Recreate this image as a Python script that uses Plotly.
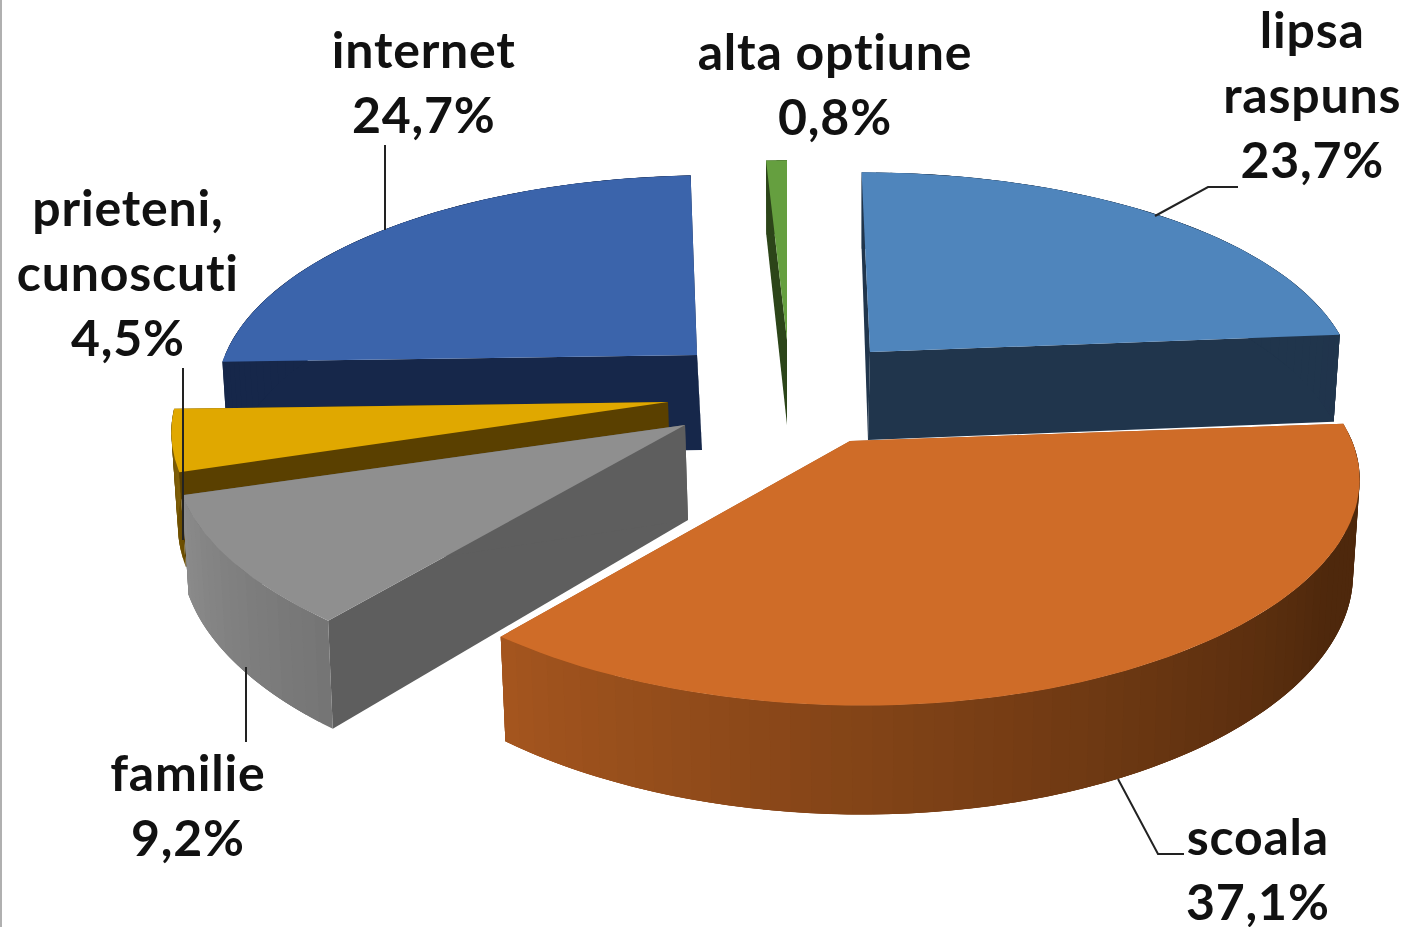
import numpy as np
import plotly.graph_objects as go

# ---- data ----
categories = ["lipsa<br>raspuns", "scoala", "familie", "prieteni,<br>cunoscuti", "internet", "alta optiune"]
values = [23.7, 37.1, 9.2, 4.5, 24.7, 0.8]
value_labels = ["23,7%", "37,1%", "9,2%", "4,5%", "24,7%", "0,8%"]

# ---- styles ----
top_colors = ["#4F85BC", "#CF6C28", "#8F8F8F", "#E0A800", "#3B64AB", "#659F3F"]
face_colors = ["#20354C", "#A5561F", "#5E5E5E", "#5A4000", "#16274A", "#2C4519"]
rim_from = ["#20354C", "#A5561F", "#8C8C8C", "#80600A", "#16274A", "#2C4519"]
rim_to = ["#20354C", "#4E280C", "#757575", "#6A4C00", "#16274A", "#2C4519"]
FONT = "Lato"
# exploded wedge placement: apex x, apex y, radius x, back-lean, depth, apex drift at the bottom
placement = [
    (870, 352, 478, -10, 88, -2),
    (850, 441, 502, -10, 92, 2),
    (685, 425, 505, -4, 95, 3),
    (668, 402, 492, -8, 90, 2),
    (697, 355, 472, 17, 95, 5),
    (787, 340, 480, 0, 85, 0),
]
label_pos = [(1312, 94), (1258, 868), (188, 804), (128, 272), (424, 81), (835, 83)]
H, K, BOTTOM_SHRINK = 214.0, 0.191, 0.987
draw_order = [0, 5, 4, 3, 2, 1]


def hexrgb(c):
    return np.array([int(c[i:i + 2], 16) for i in (1, 3, 5)], float)


def mix(a, b, f):
    m = hexrgb(a) * (1 - f) + hexrgb(b) * f
    return "rgb(%d,%d,%d)" % tuple(m)


def project(cx, cy, r, lean, depth, t_deg, bottom=False):
    t = np.radians(t_deg)
    u, v = np.sin(t), np.cos(t)
    s = 1 / (1 + K * v)
    rr = r * (BOTTOM_SHRINK if bottom else 1)
    x = cx + rr * u * s ** 0.8 + lean * v * s
    y = cy - H * v * s
    if bottom:
        y = y + depth * s ** 0.8
    return x, y


def poly(fig, xs, ys, color, name):
    fig.add_trace(go.Scatter(
        x=list(xs), y=list(ys), mode="lines", fill="toself", fillcolor=color,
        line=dict(color=color, width=0), hoverinfo="skip", showlegend=False, name=name))


fig = go.Figure()
edges = np.concatenate([[0], np.cumsum(values)]) / sum(values) * 360

for i in draw_order:
    cx, cy, r, lean, d, drift = placement[i]
    t0, t1 = edges[i], edges[i + 1]
    name = categories[i].replace("<br>", " ")
    # radial cut faces
    for t in (t0, t1):
        top = project(cx, cy, r, lean, d, t)
        bot = project(cx, cy, r, lean, d, t, True)
        poly(fig, [cx, top[0], bot[0], cx + drift], [cy, top[1], bot[1], cy + d], face_colors[i], name)
    # outer curved wall, shaded in short overlapping strips (drawn in order, so no seams)
    ts = np.linspace(t0, t1, max(3, int((t1 - t0) / 2) + 2))
    step = ts[1] - ts[0]
    shade_end = max(t0, t1 - 100) if i == 1 else t0
    for a0 in ts[:-1]:
        a1 = min(a0 + 3 * step, t1)
        f = np.clip((t1 - (a0 + step / 2)) / max(t1 - shade_end, 1e-6), 0, 1)
        c = mix(rim_from[i], rim_to[i], f)
        ang = np.linspace(a0, a1, 5)
        up = [project(cx, cy, r, lean, d, a) for a in ang]
        lo = [project(cx, cy, r, lean, d, a, True) for a in ang[::-1]]
        p = up + lo
        poly(fig, [q[0] for q in p], [q[1] for q in p], c, name)
    # top face
    arc = [project(cx, cy, r, lean, d, t) for t in np.linspace(t0, t1, 80)]
    poly(fig, [cx] + [q[0] for q in arc], [cy] + [q[1] for q in arc], top_colors[i], name)

annotations = [
    dict(x=px, y=py, xref="x", yref="y", text=f"<b>{c}<br>{v}</b>", showarrow=False,
         font=dict(family=FONT, size=50, color="#111111"), align="center",
         xanchor="center", yanchor="middle")
    for c, v, (px, py) in zip(categories, value_labels, label_pos)
]
leader_paths = [
    "M 385 145 L 385 230",
    "M 1238 187 L 1208 187 L 1155 216",
    "M 183 368 L 183 540",
    "M 246 667 L 246 742",
    "M 1118 779 L 1158 854 L 1184 854",
]
shapes = [dict(type="path", path=p, xref="x", yref="y", line=dict(color="#222222", width=2))
          for p in leader_paths]
shapes.append(dict(type="line", xref="x", yref="y", x0=1, x1=1, y0=0, y1=927,
                   line=dict(color="#B0B0B0", width=2)))

fig.update_layout(
    width=1411, height=927, margin=dict(l=0, r=0, t=0, b=0),
    paper_bgcolor="white", plot_bgcolor="white", showlegend=False,
    xaxis=dict(range=[0, 1411], visible=False, fixedrange=True),
    yaxis=dict(range=[927, 0], visible=False, fixedrange=True),
    annotations=annotations, shapes=shapes,
)
fig.write_html("out.html", config={"displayModeBar": False},
               post_script=("document.body.style.margin='0';document.body.style.overflow='hidden';"
                            "var s=document.createElement('style');"
                            "s.textContent='text{letter-spacing:0.8px;font-variant-ligatures:none;"
                            "font-feature-settings:\"liga\" 0,\"clig\" 0,\"calt\" 0}';"
                            "document.head.appendChild(s);"))
